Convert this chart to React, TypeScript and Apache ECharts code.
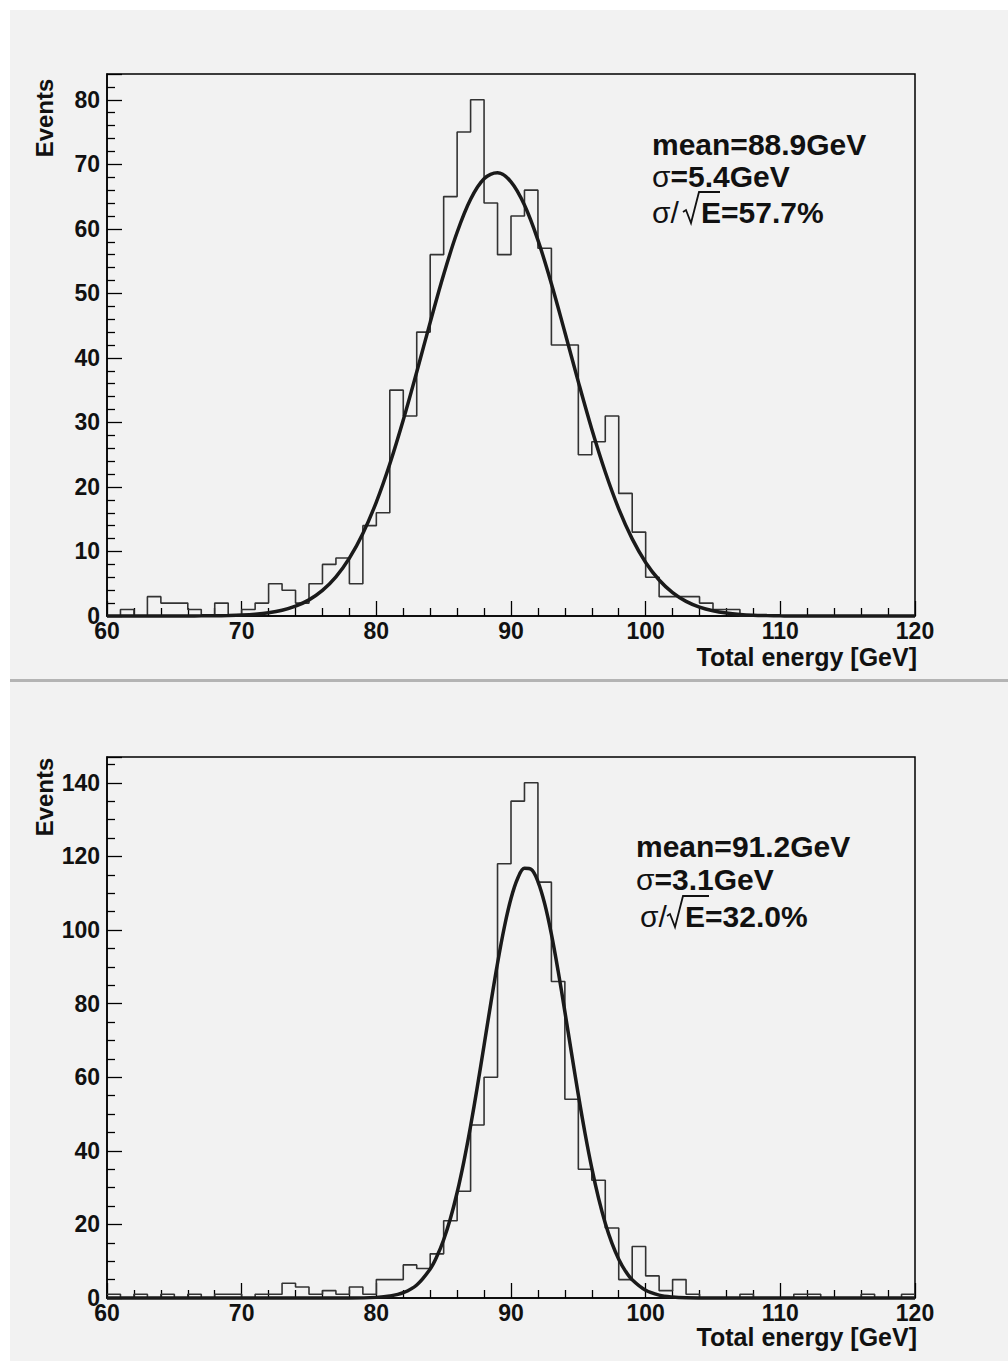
import React, { useEffect, useRef } from "react";
import * as echarts from "echarts";

// ---- data ----
const xMin = 60;
const xMax = 120;
const binWidth = 1;

// top panel: events per 1 GeV bin, bins starting at 60,61,...,119
const topCounts = [
  0, 1, 0, 3, 2, 2, 1, 0, 2, 0,
  1, 2, 5, 4, 2, 5, 8, 9, 5, 14,
  16, 35, 31, 44, 56, 65, 75, 80, 64, 56,
  62, 66, 57, 42, 42, 25, 27, 31, 19, 13,
  6, 3, 3, 3, 2, 1, 1, 0, 0, 0,
  0, 0, 0, 0, 0, 0, 0, 0, 0, 0,
];

// bottom panel
const bottomCounts = [
  1, 0, 1, 0, 1, 0, 1, 0, 1, 1,
  0, 1, 1, 4, 3, 1, 2, 1, 3, 1,
  5, 5, 9, 8, 12, 21, 29, 47, 60, 118,
  135, 140, 113, 86, 54, 35, 32, 19, 5, 14,
  6, 2, 5, 1, 0, 0, 0, 1, 0, 0,
  0, 1, 1, 0, 0, 0, 1, 0, 0, 1,
];

// fit curve (top), at x = 60..120
const fitTopX = [
  60, 61, 62, 63, 64, 65, 66, 67, 68, 69,
  70, 71, 72, 73, 74, 75, 76, 77, 78, 79,
  80, 81, 82, 83, 84, 85, 86, 87, 88, 89,
  90, 91, 92, 93, 94, 95, 96, 97, 98, 99,
  100, 101, 102, 103, 104, 105, 106, 107, 108, 109,
  110, 111, 112, 113, 114, 115, 116, 117, 118, 119, 120,
];
const fitTopY = [
  0, 0, 0, 0, 0, 0, 0.01, 0.02, 0.04, 0.08,
  0.15, 0.28, 0.51, 0.9, 1.53, 2.5, 3.96, 6.06, 8.96, 12.79,
  17.66, 23.56, 30.37, 37.82, 45.51, 52.93, 59.47, 64.58, 67.75, 68.69,
  67.29, 63.7, 58.26, 51.5, 43.98, 36.29, 28.94, 22.31, 16.61, 11.95,
  8.3, 5.58, 3.62, 2.27, 1.38, 0.81, 0.46, 0.25, 0.13, 0.07,
  0.03, 0, 0, 0, 0, 0, 0, 0, 0, 0, 0,
];

// fit curve (bottom)
const fitBottomX = [
  60, 65, 70, 75, 78, 80, 81, 82, 83, 84,
  84.5, 85, 85.5, 86, 86.5, 87, 87.5, 88, 88.5, 89,
  89.5, 90, 90.5, 91, 91.5, 92, 92.5, 93, 93.5, 94,
  94.5, 95, 95.5, 96, 96.5, 97, 97.5, 98, 98.5, 99,
  100, 101, 102, 103, 105, 110, 115, 120,
];
const fitBottomY = [
  0, 0, 0, 0, 0.01, 0.17, 0.52, 1.43, 3.53, 7.89,
  11.32, 15.83, 21.58, 28.66, 37.08, 46.73, 57.39, 68.68, 80.06, 90.96,
  100.67, 108.55, 114.05, 116.76, 116.45, 113.16, 107.15, 98.85, 88.85, 77.81,
  66.4, 55.2, 44.71, 35.29, 27.13, 20.33, 14.84, 10.55, 7.31, 4.93,
  2.08, 0.79, 0.27, 0.08, 0, 0, 0, 0,
];

const topStats = ["mean=88.9GeV", "=5.4GeV", "E=57.7%"];
const bottomStats = ["mean=91.2GeV", "=3.1GeV", "E=32.0%"];
const xTitle = "Total energy [GeV]";
const yTitle = "Events";

// ---- helpers ----
const FONT = '"Liberation Sans", Arial, sans-serif';

function histData(counts: number[]) {
  const d = counts.map((c, i) => [xMin + i * binWidth, c]);
  d.push([xMax, counts[counts.length - 1]]);
  return d;
}

function xAxisCfg(gridIndex: number) {
  return {
    gridIndex,
    type: "value",
    min: xMin,
    max: xMax,
    interval: 10,
    axisLine: { show: true, onZero: false, lineStyle: { color: "#000", width: 1.5 } },
    axisTick: { show: true, inside: true, length: 15, lineStyle: { color: "#000", width: 1.3 } },
    minorTick: { show: true, splitNumber: 5, length: 8, lineStyle: { color: "#000", width: 1.3 } },
    splitLine: { show: false },
    minorSplitLine: { show: false },
    axisLabel: {
      fontFamily: FONT,
      fontWeight: "bold",
      fontSize: 23,
      color: "#111",
      margin: 3,
    },
  };
}

function yAxisCfg(gridIndex: number, max: number, interval: number, minorSplit: number) {
  return {
    gridIndex,
    type: "value",
    min: 0,
    max,
    interval,
    axisLine: { show: true, onZero: false, lineStyle: { color: "#000", width: 1.5 } },
    axisTick: { show: true, inside: true, length: 15, lineStyle: { color: "#000", width: 1.3 } },
    minorTick: { show: true, splitNumber: minorSplit, length: 8, lineStyle: { color: "#000", width: 1.3 } },
    splitLine: { show: false },
    minorSplitLine: { show: false },
    axisLabel: {
      fontFamily: FONT,
      fontWeight: "bold",
      fontSize: 23,
      color: "#111",
      margin: 7,
      formatter: (v: number) => (v % interval === 0 ? String(v) : ""),
    },
  };
}

// stats box: "mean=...", "σ=...", "σ/√E=..."
function statsGraphics(
  x: number,
  y1: number,
  y2: number,
  x3: number,
  base3: number,
  sqrtStart: number,
  overY: number,
  overEnd: number,
  stats: string[]
) {
  const bold = { fontFamily: FONT, fontWeight: "bold", fontSize: 30, fill: "#111" };
  return [
    {
      type: "text",
      x,
      y: y1,
      style: { ...bold, text: stats[0], verticalAlign: "middle", align: "left" },
    },
    {
      type: "text",
      x,
      y: y2,
      style: {
        text: "{s|σ}{b|" + stats[1] + "}",
        verticalAlign: "middle",
        align: "left",
        rich: {
          s: { fontFamily: FONT, fontWeight: "normal", fontSize: 30, fill: "#111" },
          b: { fontFamily: FONT, fontWeight: "bold", fontSize: 30, fill: "#111" },
        },
      },
    },
    {
      type: "text",
      x: x3,
      y: base3 - 11,
      style: {
        text: "σ/",
        fontFamily: FONT,
        fontWeight: "normal",
        fontSize: 30,
        fill: "#111",
        verticalAlign: "middle",
        align: "left",
      },
    },
    {
      type: "polyline",
      shape: {
        points: [
          [sqrtStart, base3 - 11],
          [sqrtStart + 3, base3 - 13],
          [sqrtStart + 8, base3],
          [sqrtStart + 16, overY],
          [overEnd, overY],
        ],
      },
      style: { stroke: "#111", lineWidth: 1.8, fill: "none" },
    },
    {
      type: "text",
      x: sqrtStart + 18,
      y: base3 - 11,
      style: { ...bold, text: stats[2], verticalAlign: "middle", align: "left" },
    },
  ];
}

function titleGraphics(evY: number, enY: number) {
  return [
    {
      type: "text",
      x: 44,
      y: evY,
      rotation: Math.PI / 2,
      style: {
        text: yTitle,
        fontFamily: FONT,
        fontWeight: "bold",
        fontSize: 24,
        fill: "#111",
        align: "center",
        verticalAlign: "middle",
      },
    },
    {
      type: "text",
      x: 917,
      y: enY,
      style: {
        text: xTitle,
        fontFamily: FONT,
        fontWeight: "bold",
        fontSize: 25,
        fill: "#111",
        align: "right",
        verticalAlign: "middle",
      },
    },
  ];
}

export default function App() {
  const ref = useRef<HTMLDivElement>(null);

  useEffect(() => {
    if (!ref.current) return;
    const chart = echarts.init(ref.current, undefined, { renderer: "svg" });

    const histLine = { color: "#333", width: 1.6 };
    const fitLine = { color: "#1a1a1a", width: 3.5 };

    const option: any = {
      animation: false,
      backgroundColor: "#f2f2f2",
      grid: [
        {
          left: 107,
          top: 74,
          width: 808,
          height: 542,
          show: true,
          borderColor: "#000",
          borderWidth: 1.5,
          backgroundColor: "transparent",
        },
        {
          left: 107,
          top: 757,
          width: 808,
          height: 541,
          show: true,
          borderColor: "#000",
          borderWidth: 1.5,
          backgroundColor: "transparent",
        },
      ],
      xAxis: [xAxisCfg(0), xAxisCfg(1)],
      yAxis: [yAxisCfg(0, 84, 10, 5), yAxisCfg(1, 147, 20, 4)],
      series: [
        {
          type: "line",
          xAxisIndex: 0,
          yAxisIndex: 0,
          step: "end",
          symbol: "none",
          data: histData(topCounts),
          lineStyle: histLine,
          z: 2,
        },
        {
          type: "line",
          xAxisIndex: 0,
          yAxisIndex: 0,
          smooth: 0.35,
          symbol: "none",
          clip: false,
          data: fitTopX.map((x, i) => [x, fitTopY[i]]),
          lineStyle: fitLine,
          z: 3,
        },
        {
          type: "line",
          xAxisIndex: 1,
          yAxisIndex: 1,
          step: "end",
          symbol: "none",
          data: histData(bottomCounts),
          lineStyle: histLine,
          z: 2,
        },
        {
          type: "line",
          xAxisIndex: 1,
          yAxisIndex: 1,
          smooth: 0.35,
          symbol: "none",
          clip: false,
          data: fitBottomX.map((x, i) => [x, fitBottomY[i]]),
          lineStyle: fitLine,
          z: 3,
        },
      ],
      graphic: [
        { type: "rect", z: -10, shape: { x: 0, y: 0, width: 10, height: 1361 }, style: { fill: "#ffffff" } },
        { type: "rect", z: -10, shape: { x: 0, y: 0, width: 1008, height: 10 }, style: { fill: "#ffffff" } },
        { type: "rect", z: -10, shape: { x: 10, y: 679, width: 998, height: 3 }, style: { fill: "#b4b4b4" } },
        ...titleGraphics(118, 657),
        ...titleGraphics(797, 1337),
        ...statsGraphics(652, 144, 176, 652, 223, 683, 192, 720, topStats),
        ...statsGraphics(636, 846, 879, 640, 927, 667, 896, 709, bottomStats),
      ],
    };

    chart.setOption(option);
    return () => chart.dispose();
  }, []);

  return (
    <div
      ref={ref}
      style={{ position: "absolute", left: 0, top: 0, width: 1008, height: 1361 }}
    />
  );
}
